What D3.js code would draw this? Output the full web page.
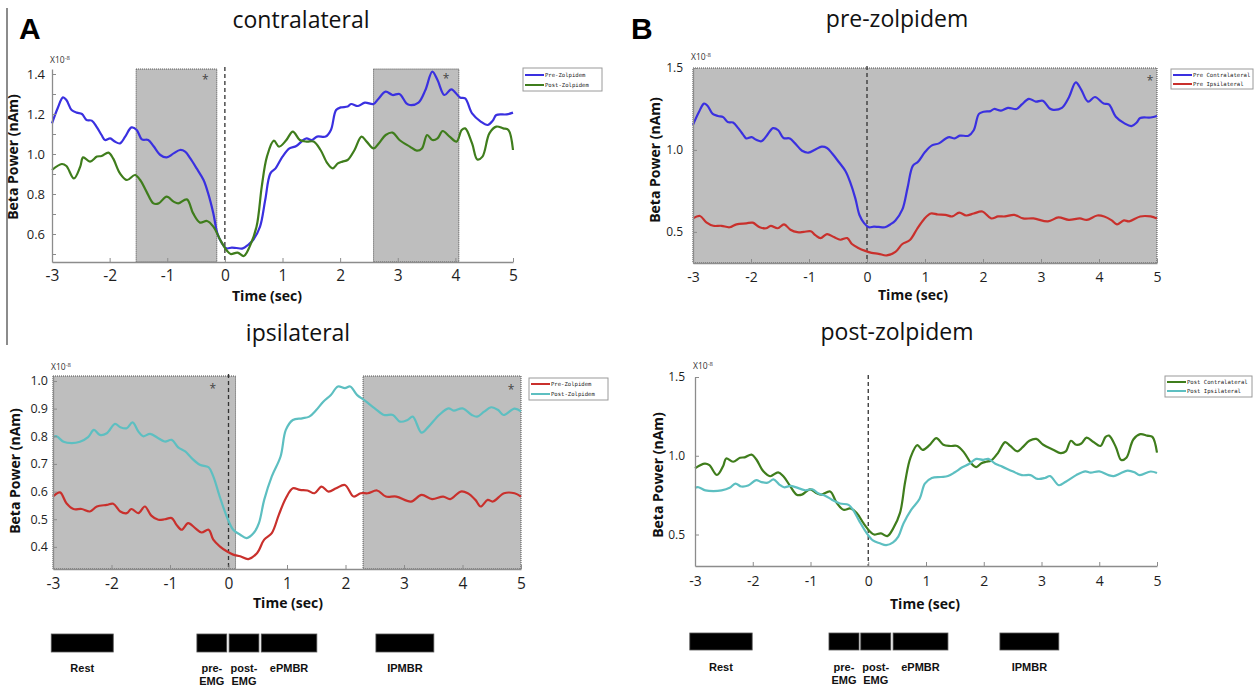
<!DOCTYPE html>
<html>
<head>
<meta charset="utf-8"/>
<style>
body { margin: 0; background: #fff; }
svg { display: block; }
</style>
</head>
<body>
<svg id="fig" width="1258" height="686"></svg>
<script src="https://cdnjs.cloudflare.com/ajax/libs/d3/7.8.5/d3.min.js"></script>
<script>
// x axis ticks (sec)
const timeTicks = [-3, -2, -1, 0, 1, 2, 3, 4, 5];

// pre-zolpidem, contralateral (blue)
const preContraT = [-3, -2.9, -2.81, -2.75, -2.66, -2.57, -2.48, -2.4, -2.31, -2.22, -2.14, -2.08, -1.99, -1.91, -1.82, -1.73, -1.62, -1.53, -1.44, -1.33, -1.24, -1.12, -1.01, -0.89, -0.78, -0.69, -0.6, -0.49, -0.37, -0.29, -0.2, -0.13, -0.05, 0.03, 0.12, 0.2, 0.31, 0.4, 0.49, 0.61, 0.7, 0.79, 0.88, 1.0, 1.12, 1.24, 1.36, 1.42, 1.51, 1.6, 1.75, 1.84, 1.93, 2.01, 2.13, 2.19, 2.31, 2.43, 2.58, 2.67, 2.79, 2.91, 3.03, 3.15, 3.21, 3.36, 3.48, 3.6, 3.69, 3.81, 3.93, 4.08, 4.17, 4.29, 4.44, 4.56, 4.65, 4.71, 4.89, 5.0];
const preContraV = [1.153, 1.23, 1.283, 1.27, 1.22, 1.207, 1.2, 1.17, 1.167, 1.133, 1.095, 1.07, 1.078, 1.062, 1.053, 1.087, 1.133, 1.12, 1.073, 1.07, 1.04, 0.995, 0.983, 1.003, 1.02, 1.012, 0.978, 0.928, 0.87, 0.803, 0.703, 0.603, 0.553, 0.528, 0.532, 0.53, 0.528, 0.545, 0.57, 0.637, 0.77, 0.903, 0.928, 0.987, 1.028, 1.04, 1.07, 1.078, 1.07, 1.087, 1.087, 1.12, 1.22, 1.233, 1.237, 1.25, 1.24, 1.257, 1.25, 1.278, 1.312, 1.295, 1.3, 1.253, 1.245, 1.257, 1.32, 1.412, 1.37, 1.295, 1.323, 1.283, 1.278, 1.203, 1.162, 1.145, 1.167, 1.195, 1.198, 1.207];

// post-zolpidem, contralateral (green)
const postContraT = [-3, -2.83, -2.75, -2.62, -2.51, -2.46, -2.34, -2.22, -2.14, -2.02, -1.94, -1.82, -1.7, -1.56, -1.47, -1.36, -1.24, -1.15, -1.01, -0.89, -0.81, -0.66, -0.55, -0.43, -0.31, -0.2, -0.08, 0.04, 0.1, 0.22, 0.33, 0.43, 0.55, 0.64, 0.73, 0.85, 0.94, 1.06, 1.18, 1.3, 1.42, 1.54, 1.66, 1.78, 1.87, 1.96, 2.04, 2.13, 2.25, 2.37, 2.46, 2.58, 2.67, 2.79, 2.91, 3.03, 3.21, 3.33, 3.42, 3.51, 3.6, 3.69, 3.78, 3.9, 4.02, 4.11, 4.17, 4.29, 4.38, 4.47, 4.59, 4.71, 4.83, 4.92, 5.0];
const postContraV = [0.92, 0.95, 0.94, 0.878, 0.937, 0.983, 0.962, 0.987, 0.99, 1.007, 0.978, 0.903, 0.87, 0.895, 0.87, 0.812, 0.753, 0.753, 0.787, 0.762, 0.753, 0.773, 0.703, 0.657, 0.665, 0.637, 0.57, 0.515, 0.5, 0.507, 0.49, 0.537, 0.637, 0.837, 0.987, 1.067, 1.037, 1.067, 1.112, 1.07, 1.062, 1.062, 1.02, 0.953, 0.928, 0.953, 0.962, 0.97, 1.02, 1.087, 1.062, 1.028, 1.053, 1.095, 1.107, 1.07, 1.037, 1.017, 1.028, 1.095, 1.07, 1.078, 1.115, 1.087, 1.062, 1.12, 1.128, 1.053, 0.973, 0.987, 1.103, 1.137, 1.128, 1.12, 1.02];

// pre-zolpidem, ipsilateral (red)
const preIpsiT = [-3, -2.88, -2.77, -2.65, -2.51, -2.37, -2.25, -2.08, -1.97, -1.85, -1.74, -1.66, -1.54, -1.43, -1.32, -1.2, -1.09, -0.97, -0.89, -0.8, -0.69, -0.57, -0.46, -0.34, -0.26, -0.15, -0.03, 0.08, 0.2, 0.34, 0.49, 0.61, 0.74, 0.86, 0.98, 1.1, 1.22, 1.35, 1.47, 1.59, 1.71, 1.84, 1.99, 2.14, 2.26, 2.38, 2.54, 2.69, 2.87, 3.12, 3.3, 3.48, 3.67, 3.79, 3.97, 4.09, 4.22, 4.31, 4.43, 4.52, 4.71, 4.89, 5.0];
const preIpsiV = [0.582, 0.597, 0.558, 0.537, 0.537, 0.528, 0.546, 0.552, 0.556, 0.528, 0.522, 0.537, 0.522, 0.546, 0.513, 0.498, 0.5, 0.504, 0.48, 0.462, 0.486, 0.468, 0.452, 0.462, 0.426, 0.402, 0.384, 0.372, 0.366, 0.356, 0.378, 0.426, 0.45, 0.516, 0.576, 0.612, 0.606, 0.604, 0.594, 0.618, 0.6, 0.612, 0.624, 0.582, 0.594, 0.594, 0.604, 0.582, 0.582, 0.564, 0.588, 0.573, 0.582, 0.573, 0.6, 0.594, 0.57, 0.546, 0.57, 0.564, 0.594, 0.594, 0.582];

// post-zolpidem, ipsilateral (cyan)
const postIpsiT = [-3, -2.94, -2.82, -2.68, -2.54, -2.4, -2.3, -2.2, -2.08, -1.94, -1.85, -1.74, -1.64, -1.54, -1.46, -1.34, -1.2, -1.09, -0.97, -0.86, -0.74, -0.63, -0.49, -0.34, -0.26, -0.15, -0.03, 0.08, 0.2, 0.31, 0.43, 0.52, 0.61, 0.74, 0.89, 0.98, 1.1, 1.26, 1.38, 1.5, 1.62, 1.75, 1.87, 1.99, 2.08, 2.2, 2.32, 2.5, 2.66, 2.81, 2.93, 3.06, 3.15, 3.3, 3.42, 3.6, 3.76, 3.85, 4.0, 4.16, 4.25, 4.37, 4.49, 4.61, 4.7, 4.89, 5.0];
const postIpsiV = [0.797, 0.8, 0.78, 0.775, 0.78, 0.797, 0.823, 0.805, 0.811, 0.845, 0.833, 0.829, 0.85, 0.817, 0.8, 0.809, 0.793, 0.781, 0.787, 0.76, 0.745, 0.721, 0.697, 0.688, 0.655, 0.582, 0.51, 0.462, 0.444, 0.432, 0.45, 0.486, 0.57, 0.655, 0.727, 0.823, 0.859, 0.865, 0.871, 0.895, 0.925, 0.949, 0.98, 0.974, 0.98, 0.949, 0.931, 0.901, 0.877, 0.877, 0.853, 0.859, 0.871, 0.813, 0.835, 0.877, 0.901, 0.893, 0.901, 0.877, 0.871, 0.889, 0.905, 0.895, 0.877, 0.9, 0.89];

// shaded (significant) windows, in sec
const contraBoxes = [[-1.54, -0.14], [2.58, 4.06]];
const ipsiBoxes = [[-3, 0.12], [2.3, 5]];
const preBoxes = [[-3, 5]];
const postBoxes = [];

// asterisks [time, value]
const contraStars = [[-0.34, 1.385], [3.84, 1.39]];
const ipsiStars = [[-0.27, 0.982], [4.83, 0.978]];
const preStars = [[4.88, 1.44]];

// y ticks
const contraTicks = [0.5, 0.6, 0.7, 0.8, 0.9, 1.0, 1.1, 1.2, 1.3, 1.4];
const contraLabels = [0.6, 0.8, 1.0, 1.2, 1.4];
const ipsiTicks = [0.4, 0.5, 0.6, 0.7, 0.8, 0.9, 1.0];
const zolTicks = [0.5, 1.0, 1.5];

// task phases (sec)
const phaseNames = [["Rest"], ["pre-", "EMG"], ["post-", "EMG"], ["ePMBR"], ["IPMBR"]];
const phasesA = [[-3.03, -1.97], [-0.54, -0.03], [0.01, 0.52], [0.56, 1.51], [2.52, 3.51]];
const phasesB = [[-3.09, -2.01], [-0.68, -0.16], [-0.13, 0.39], [0.43, 1.38], [2.28, 3.3]];

const BLUE = "#3a30e0", GREEN = "#3f7d1c", RED = "#c9302c", CYAN = "#5dbfc1";
const FONT = "'Open Sans', sans-serif";

const zip = (t, v) => t.map((d, i) => [d, v[i]]);

const panels = [
  { title: "contralateral", tx: 301, ty: 28, left: 52, right: 513, top: 69, bottom: 262,
    yDomain: [0.46, 1.425], yTicks: contraTicks, yLabels: contraLabels, yFont: 13, xFont: 15.5,
    xPad: 8, yPad: 7, ylx: 13, yly: 157, xlx: 267, xly: 301, expY: 63,
    boxes: contraBoxes, stars: contraStars,
    series: [[zip(preContraT, preContraV), BLUE, "Pre-Zolpidem"], [zip(postContraT, postContraV), GREEN, "Post-Zolpidem"]],
    legend: { x: 523, y: 68, w: 79, h: 23, rows: [75, 85] } },
  { title: "ipsilateral", tx: 298, ty: 341, left: 53, right: 521, top: 376, bottom: 569,
    yDomain: [0.32, 1.018], yTicks: ipsiTicks, yLabels: ipsiTicks, yFont: 12.5, xFont: 15.5,
    xPad: 9, yPad: 5, ylx: 15, yly: 471, xlx: 288, xly: 608, expY: 370,
    boxes: ipsiBoxes, stars: ipsiStars,
    series: [[zip(preIpsiT, preIpsiV), RED, "Pre-Zolpidem"], [zip(postIpsiT, postIpsiV), CYAN, "Post-Zolpidem"]],
    legend: { x: 529, y: 378, w: 79, h: 22, rows: [384, 394] } },
  { title: "pre-zolpidem", tx: 897, ty: 27, left: 693, right: 1157, top: 68, bottom: 263,
    yDomain: [0.31, 1.5], yTicks: zolTicks, yLabels: zolTicks, yFont: 12, xFont: 14,
    xPad: 9, yPad: 10, ylx: 655, yly: 160, xlx: 913, xly: 300, expY: 60,
    boxes: preBoxes, stars: preStars,
    series: [[zip(preContraT, preContraV), BLUE, "Pre Contralateral"], [zip(preIpsiT, preIpsiV), RED, "Pre Ipsilateral"]],
    legend: { x: 1171, y: 69, w: 82, h: 20, rows: [75, 84] } },
  { title: "post-zolpidem", tx: 897, ty: 340, left: 695, right: 1157, top: 377, bottom: 566,
    yDomain: [0.30, 1.5], yTicks: zolTicks, yLabels: zolTicks, yFont: 12, xFont: 14,
    xPad: 10, yPad: 10, ylx: 658, yly: 475, xlx: 925, xly: 609, expY: 369,
    boxes: postBoxes, stars: [],
    series: [[zip(postContraT, postContraV), GREEN, "Post Contralateral"], [zip(postIpsiT, postIpsiV), CYAN, "Post Ipsilateral"]],
    legend: { x: 1165, y: 376, w: 87, h: 21, rows: [382, 391] } }
];

const svg = d3.select("#fig");
const fmt = d3.format(".1f");

panels.forEach((p) => {
  const x = d3.scaleLinear().domain([-3, 5]).range([p.left, p.right]);
  const y = d3.scaleLinear().domain(p.yDomain).range([p.bottom, p.top]);
  p.x = x;
  const g = svg.append("g");

  // shaded windows
  g.selectAll("rect.box")
    .data(p.boxes)
    .join("rect")
      .attr("x", d => x(d[0]))
      .attr("y", y(p.yDomain[1]))
      .attr("width", d => x(d[1]) - x(d[0]))
      .attr("height", y(p.yDomain[0]) - y(p.yDomain[1]))
      .attr("fill", "#bebebe")
      .attr("stroke", "#4a4a4a")
      .attr("stroke-width", 1)
      .attr("stroke-dasharray", "1,1");

  // movement onset
  g.append("line")
    .attr("x1", x(0)).attr("x2", x(0))
    .attr("y1", y(p.yDomain[1]) - 2).attr("y2", y(p.yDomain[0]))
    .attr("stroke", "#333")
    .attr("stroke-width", 1.3)
    .attr("stroke-dasharray", "4,3");

  const line = d3.line()
    .x(d => x(d[0]))
    .y(d => y(d[1]))
    .curve(d3.curveCatmullRom.alpha(0.5));

  p.series.forEach(s => {
    g.append("path")
      .attr("d", line(s[0]))
      .attr("fill", "none")
      .attr("stroke", s[1])
      .attr("stroke-width", 2.2)
      .attr("stroke-linejoin", "round");
  });

  // axes
  const xa = g.append("g")
    .attr("transform", `translate(0,${p.bottom})`)
    .call(d3.axisBottom(x).tickValues(timeTicks).tickFormat(d => String(d)).tickSize(-4).tickSizeOuter(0).tickPadding(p.xPad));
  const ya = g.append("g")
    .attr("transform", `translate(${p.left},0)`)
    .call(d3.axisLeft(y).tickValues(p.yTicks).tickSize(-4).tickSizeOuter(0).tickPadding(p.yPad)
      .tickFormat(d => p.yLabels.some(v => Math.abs(v - d) < 1e-6) ? fmt(d) : ""));
  [[xa, p.xFont], [ya, p.yFont]].forEach(([a, fs]) => {
    a.attr("font-family", FONT).attr("font-size", fs);
    a.select(".domain").attr("stroke", "#8c8c8c").attr("stroke-width", 1.3);
    a.selectAll(".tick line").attr("stroke", "#8c8c8c");
    a.selectAll(".tick text").attr("fill", "#1e1e1e");
  });

  // asterisks
  g.selectAll("text.star")
    .data(p.stars)
    .join("text")
      .attr("x", d => x(d[0]))
      .attr("y", d => y(d[1]) + 7)
      .attr("text-anchor", "middle")
      .attr("font-family", FONT)
      .attr("font-size", 12)
      .attr("fill", "#444")
      .text("*");

  // titles and labels
  g.append("text")
    .attr("x", p.tx).attr("y", p.ty)
    .attr("text-anchor", "middle")
    .attr("font-family", FONT)
    .attr("font-size", 23)
    .attr("fill", "#111")
    .text(p.title);
  g.append("text")
    .attr("transform", `translate(${p.ylx},${p.yly}) rotate(-90)`)
    .attr("text-anchor", "middle")
    .attr("dy", "0.35em")
    .attr("font-family", FONT)
    .attr("font-weight", "bold")
    .attr("font-size", 14)
    .attr("fill", "#111")
    .text("Beta Power (nAm)");
  g.append("text")
    .attr("x", p.xlx).attr("y", p.xly)
    .attr("text-anchor", "middle")
    .attr("font-family", FONT)
    .attr("font-weight", "bold")
    .attr("font-size", 14)
    .attr("fill", "#111")
    .text("Time (sec)");
  const ex = g.append("text")
    .attr("x", p.left - 2).attr("y", p.expY)
    .attr("font-family", FONT)
    .attr("font-size", 8.5)
    .attr("fill", "#333");
  ex.append("tspan").text("X10");
  ex.append("tspan").attr("dy", -3.5).attr("font-size", 6).text("-8");

  // legend
  const L = p.legend;
  const lg = g.append("g");
  lg.append("rect")
    .attr("x", L.x).attr("y", L.y).attr("width", L.w).attr("height", L.h)
    .attr("fill", "#fff").attr("stroke", "#9a9a9a").attr("stroke-width", 1);
  p.series.forEach((s, i) => {
    lg.append("line")
      .attr("x1", L.x + 2).attr("x2", L.x + 21)
      .attr("y1", L.rows[i]).attr("y2", L.rows[i])
      .attr("stroke", s[1]).attr("stroke-width", 2);
    lg.append("text")
      .attr("x", L.x + 22).attr("y", L.rows[i] + 2)
      .attr("font-family", "'DejaVu Sans Mono', monospace")
      .attr("font-size", 5.6)
      .attr("fill", "#222")
      .text(s[2]);
  });
});

// panel letters and divider
svg.append("line")
  .attr("x1", 7).attr("x2", 7).attr("y1", 8).attr("y2", 345)
  .attr("stroke", "#666").attr("stroke-width", 1.5);
[["A", 19], ["B", 631]].forEach(([t, xx]) => {
  svg.append("text")
    .attr("x", xx).attr("y", 39)
    .attr("font-family", "'Liberation Sans', Arial, sans-serif")
    .attr("font-weight", "bold")
    .attr("font-size", 30)
    .attr("fill", "#000")
    .text(t);
});

// task phase bars
function drawPhases(x, spans, top, h, labelY) {
  const pg = svg.append("g");
  pg.selectAll("rect")
    .data(spans)
    .join("rect")
      .attr("x", d => x(d[0]))
      .attr("y", top)
      .attr("width", d => x(d[1]) - x(d[0]))
      .attr("height", h)
      .attr("fill", "#000")
      .attr("stroke", "#555")
      .attr("stroke-width", 0.8);
  pg.selectAll("text")
    .data(spans)
    .join("text")
      .attr("x", d => (x(d[0]) + x(d[1])) / 2)
      .attr("y", labelY)
      .attr("text-anchor", "middle")
      .attr("font-family", "'Liberation Sans', Arial, sans-serif")
      .attr("font-weight", "bold")
      .attr("font-size", 11)
      .attr("fill", "#111")
      .each(function(d, i) {
        phaseNames[i].forEach((ln, k) => {
          d3.select(this).append("tspan")
            .attr("x", (x(d[0]) + x(d[1])) / 2)
            .attr("dy", k === 0 ? 0 : 13)
            .text(ln);
        });
      });
}
drawPhases(panels[1].x, phasesA, 634, 18, 672);
drawPhases(panels[3].x, phasesB, 633, 17, 671);
</script>
</body>
</html>
